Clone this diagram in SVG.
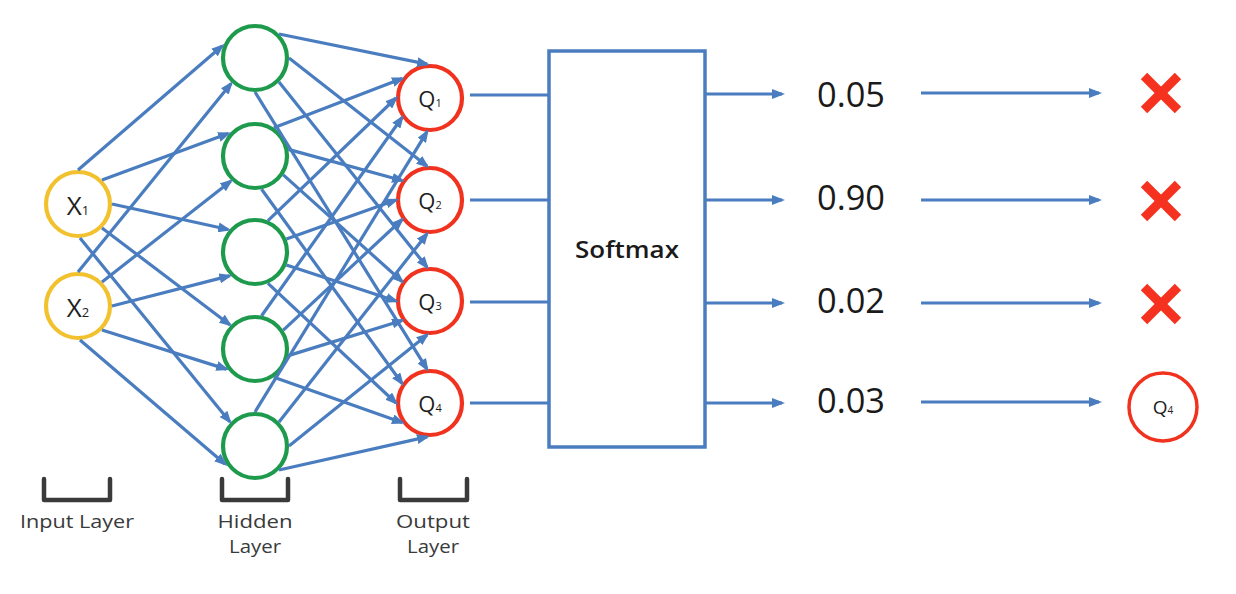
<svg xmlns="http://www.w3.org/2000/svg" width="1236" height="594" viewBox="0 0 1236 594">
<defs>
<style>
.edge{stroke:#4a7dbf;stroke-width:3.2;fill:none;marker-end:url(#ah)}
.plain{stroke:#4a7dbf;stroke-width:3.2;fill:none}
.inp{fill:#fff;stroke:#f2c12e;stroke-width:4.2}
.hid{fill:#fff;stroke:#1e9a4c;stroke-width:4.2}
.out{fill:#fff;stroke:#f0321e;stroke-width:4.2}
.lbl{font-family:"Open Sans","Liberation Sans",sans-serif;fill:#1e1e1e;text-anchor:middle}
.layer{font-family:"Open Sans","Liberation Sans",sans-serif;fill:#3a3a3a;font-size:18px;text-anchor:middle}
.num{font-family:"Open Sans","Liberation Sans",sans-serif;fill:#1a1a1a;font-size:34px}
.brk{fill:none;stroke:#3a3a3a;stroke-width:4.5;stroke-linejoin:round;stroke-linecap:round}
.cross{stroke:#f4321f;stroke-width:9}
</style>
<marker id="ah" markerUnits="userSpaceOnUse" viewBox="0 0 13 10" markerWidth="13" markerHeight="10" refX="10" refY="5" orient="auto">
<path d="M0,0 L13,5 L0,10 z" fill="#4a7dbf"/>
</marker>
</defs>
<rect width="1236" height="594" fill="#fff"/>

<g id="input-x1"><circle class="inp" cx="78" cy="204" r="32"/><text class="lbl" x="78" y="215"><tspan font-size="26">X</tspan><tspan font-size="13">1</tspan></text></g>
<g id="input-x2"><circle class="inp" cx="78" cy="306" r="32"/><text class="lbl" x="78" y="317"><tspan font-size="26">X</tspan><tspan font-size="13">2</tspan></text></g>

<g id="hidden-1"><circle class="hid" cx="255" cy="58" r="32"/></g>
<g id="hidden-2"><circle class="hid" cx="255" cy="156" r="32"/></g>
<g id="hidden-3"><circle class="hid" cx="255" cy="252" r="32"/></g>
<g id="hidden-4"><circle class="hid" cx="255" cy="349" r="32"/></g>
<g id="hidden-5"><circle class="hid" cx="255" cy="446" r="32"/></g>

<g id="output-q1"><circle class="out" cx="430" cy="98" r="32"/><text class="lbl" x="430" y="107"><tspan font-size="22">Q</tspan><tspan font-size="11">1</tspan></text></g>
<g id="output-q2"><circle class="out" cx="430" cy="200" r="32"/><text class="lbl" x="430" y="209"><tspan font-size="22">Q</tspan><tspan font-size="11">2</tspan></text></g>
<g id="output-q3"><circle class="out" cx="430" cy="301" r="32"/><text class="lbl" x="430" y="310"><tspan font-size="22">Q</tspan><tspan font-size="11">3</tspan></text></g>
<g id="output-q4"><circle class="out" cx="430" cy="403" r="32"/><text class="lbl" x="430" y="412"><tspan font-size="22">Q</tspan><tspan font-size="11">4</tspan></text></g>

<g id="softmax"><rect x="549" y="51" width="156" height="396" fill="#fff" stroke="#4a7dbf" stroke-width="3.5"/><text x="627" y="258" font-family="'Open Sans','Liberation Sans',sans-serif" font-size="23" font-weight="600" fill="#1a1a1a" text-anchor="middle" textLength="104" lengthAdjust="spacingAndGlyphs">Softmax</text></g>

<g id="prob-1"><text class="num" x="817" y="107" textLength="68" lengthAdjust="spacingAndGlyphs">0.05</text></g>
<g id="prob-2"><text class="num" x="817" y="210" textLength="68" lengthAdjust="spacingAndGlyphs">0.90</text></g>
<g id="prob-3"><text class="num" x="817" y="313" textLength="68" lengthAdjust="spacingAndGlyphs">0.02</text></g>
<g id="prob-4"><text class="num" x="817" y="413" textLength="68" lengthAdjust="spacingAndGlyphs">0.03</text></g>

<g id="reject-1"><line class="cross" x1="1144" y1="76" x2="1178" y2="110"/><line class="cross" x1="1178" y1="76" x2="1144" y2="110"/></g>
<g id="reject-2"><line class="cross" x1="1144" y1="184" x2="1178" y2="218"/><line class="cross" x1="1178" y1="184" x2="1144" y2="218"/></g>
<g id="reject-3"><line class="cross" x1="1144" y1="287" x2="1178" y2="321"/><line class="cross" x1="1178" y1="287" x2="1144" y2="321"/></g>
<g id="result-q4"><circle cx="1163" cy="407" r="34" fill="#fff" stroke="#f0321e" stroke-width="3.5"/><text class="lbl" x="1163" y="414"><tspan font-size="19">Q</tspan><tspan font-size="10">4</tspan></text></g>

<g id="bracket-input"><path class="brk" d="M44,479 V500 H110 V479"/><text class="layer" x="77" y="528" textLength="114" lengthAdjust="spacingAndGlyphs">Input Layer</text></g>
<g id="bracket-hidden"><path class="brk" d="M222,479 V500 H288 V479"/><text class="layer" x="255" y="528" textLength="75" lengthAdjust="spacingAndGlyphs">Hidden</text><text class="layer" x="255" y="553" textLength="52" lengthAdjust="spacingAndGlyphs">Layer</text></g>
<g id="bracket-output"><path class="brk" d="M400,479 V500 H467 V479"/><text class="layer" x="433" y="528" textLength="74" lengthAdjust="spacingAndGlyphs">Output</text><text class="layer" x="433" y="553" textLength="52" lengthAdjust="spacingAndGlyphs">Layer</text></g>

<g id="connectors">
<line class="edge" x1="78" y1="170" x2="222.1" y2="46"/>
<line class="edge" x1="102" y1="180" x2="228.2" y2="133.5"/>
<line class="edge" x1="112" y1="204" x2="228.2" y2="229.5"/>
<line class="edge" x1="102" y1="228" x2="229.8" y2="324.7"/>
<line class="edge" x1="80" y1="238" x2="229.8" y2="421.7"/>
<line class="edge" x1="78" y1="272" x2="231.1" y2="83.6"/>
<line class="edge" x1="102" y1="282" x2="230.7" y2="181.2"/>
<line class="edge" x1="112" y1="306" x2="229.4" y2="275.9"/>
<line class="edge" x1="102" y1="330" x2="226.3" y2="369.1"/>
<line class="edge" x1="80" y1="340" x2="225" y2="464"/>

<line class="edge" x1="279" y1="34" x2="427" y2="64.1"/>
<line class="edge" x1="289" y1="58" x2="427" y2="166.1"/>
<line class="edge" x1="279" y1="82" x2="427" y2="267.1"/>
<line class="edge" x1="255" y1="92" x2="427" y2="369.1"/>

<line class="edge" x1="273.9" y1="127.7" x2="402.1" y2="78.5"/>
<line class="edge" x1="288.3" y1="149.4" x2="402.1" y2="180.5"/>
<line class="edge" x1="283.3" y1="174.9" x2="402.1" y2="281.5"/>
<line class="edge" x1="261.6" y1="189.3" x2="402.1" y2="383.5"/>

<line class="edge" x1="268" y1="220.6" x2="396" y2="98"/>
<line class="edge" x1="286.4" y1="239" x2="396" y2="200"/>
<line class="edge" x1="286.4" y1="265" x2="396" y2="301"/>
<line class="edge" x1="268" y1="283.4" x2="396" y2="403"/>

<line class="edge" x1="261.6" y1="315.7" x2="402.1" y2="117.5"/>
<line class="edge" x1="283.3" y1="330.1" x2="402.1" y2="219.5"/>
<line class="edge" x1="288.3" y1="355.6" x2="402.1" y2="320.5"/>
<line class="edge" x1="273.9" y1="377.3" x2="402.1" y2="422.5"/>

<line class="edge" x1="255" y1="412" x2="427" y2="131.9"/>
<line class="edge" x1="279" y1="422" x2="427" y2="233.9"/>
<line class="edge" x1="289" y1="446" x2="427" y2="334.9"/>
<line class="edge" x1="279" y1="470" x2="427" y2="436.9"/>

<line class="plain" x1="470" y1="95" x2="549" y2="95"/>
<line class="plain" x1="470" y1="200" x2="549" y2="200"/>
<line class="plain" x1="470" y1="302" x2="549" y2="302"/>
<line class="plain" x1="470" y1="403" x2="549" y2="403"/>

<line class="edge" x1="706" y1="94" x2="782" y2="94"/>
<line class="edge" x1="706" y1="200" x2="782" y2="200"/>
<line class="edge" x1="706" y1="303" x2="782" y2="303"/>
<line class="edge" x1="706" y1="403" x2="782" y2="403"/>

<line class="edge" x1="921" y1="93" x2="1099" y2="93"/>
<line class="edge" x1="921" y1="200" x2="1099" y2="200"/>
<line class="edge" x1="921" y1="303" x2="1099" y2="303"/>
<line class="edge" x1="921" y1="402" x2="1099" y2="402"/>
</g>
</svg>
